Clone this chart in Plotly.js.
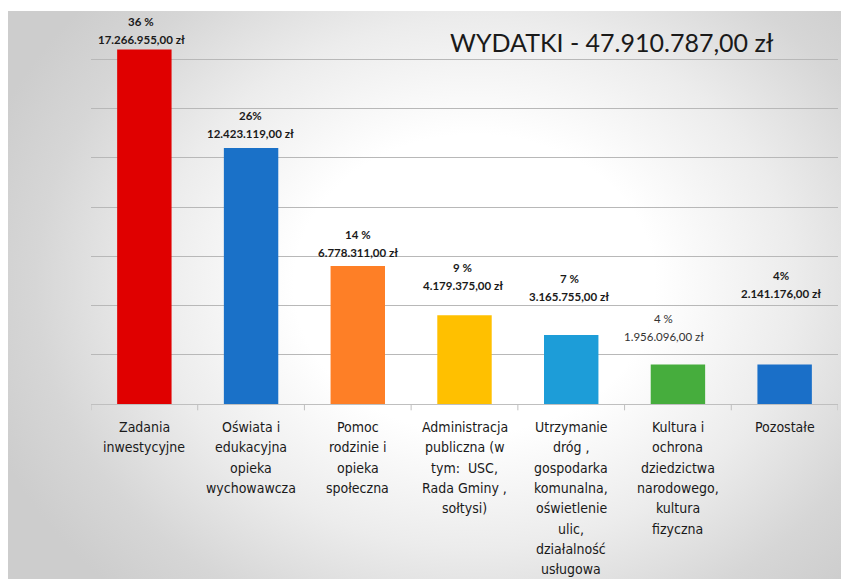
<!DOCTYPE html>
<html>
<head>
<meta charset="utf-8">
<script src="https://cdn.plot.ly/plotly-3.0.1.min.js"></script>
<style>
  html, body { margin: 0; padding: 0; background: #ffffff; }
  #wrap { position: relative; width: 841px; height: 579px; background: #ffffff; overflow: hidden; }
  #bg { position: absolute; left: 8px; top: 11px; width: 833px; height: 568px;
        background: radial-gradient(ellipse 62% 75% at 56% 48%, #ffffff 0%, #ffffff 35%, #ececec 62%, #d6d6d6 85%, #cdcdcd 100%); }
  #chart { position: absolute; left: 0; top: 0; width: 841px; height: 579px; }
</style>
</head>
<body>
<div id="wrap"><div id="bg"></div><div id="chart"></div></div>
<script>
// Data
const categories = [
  "Zadania<br>inwestycyjne",
  "Oświata i<br>edukacyjna<br>opieka<br>wychowawcza",
  "Pomoc<br>rodzinie i<br>opieka<br>społeczna",
  "Administracja<br>publiczna (w<br>tym:  USC,<br>Rada Gminy ,<br>sołtysi)",
  "Utrzymanie<br>dróg ,<br>gospodarka<br>komunalna,<br>oświetlenie<br>ulic,<br>działalność<br>usługowa",
  "Kultura i<br>ochrona<br>dziedzictwa<br>narodowego,<br>kultura<br>fizyczna",
  "Pozostałe"
];
const percentValues = [36, 26, 14, 9, 7, 4, 4];
const percentLabels = ["36 %", "26%", "14 %", "9 %", "7 %", "4 %", "4%"];
const amountLabels = ["17.266.955,00 zł", "12.423.119,00 zł", "6.778.311,00 zł", "4.179.375,00 zł", "3.165.755,00 zł", "1.956.096,00 zł", "2.141.176,00 zł"];
const titleText = "WYDATKI - 47.910.787,00 zł";

// Styles
const barColors = ["#e00000", "#1a71c8", "#fe7f26", "#ffc000", "#1d9dd8", "#46ad3d", "#1a6fc8"];
const labelGap = [1, 6, 5, 21, 30, 20, 63];
const labelXShift = [-3, -1, 0, -2, -2, -14, -4];
const labelBold = [true, true, true, true, true, false, true];

const idx = categories.map((c, i) => i);

const trace = {
  type: 'bar',
  x: idx,
  y: percentValues,
  marker: { color: barColors },
  width: 0.51,
  hoverinfo: 'none'
};

const annotations = [];
idx.forEach(i => {
  const f = { family: 'Lato, "Open Sans", sans-serif', size: 11.5, color: labelBold[i] ? '#1a1a1a' : '#333333', weight: labelBold[i] ? 'bold' : 'normal' };
  annotations.push({ x: i, y: percentValues[i], xref: 'x', yref: 'y', text: amountLabels[i], showarrow: false,
    yanchor: 'bottom', xanchor: 'center', yshift: labelGap[i], xshift: labelXShift[i], font: f });
  annotations.push({ x: i, y: percentValues[i], xref: 'x', yref: 'y', text: percentLabels[i], showarrow: false,
    yanchor: 'bottom', xanchor: 'center', yshift: labelGap[i] + 18, xshift: labelXShift[i], font: f });
});

// Category labels, one annotation per line for Excel-like line spacing
idx.forEach(i => {
  categories[i].split('<br>').forEach((line, k) => {
    annotations.push({ x: i, y: 0, xref: 'x', yref: 'paper', text: line, showarrow: false,
      xanchor: 'center', yanchor: 'middle', yshift: -(23 + 20.3 * k),
      font: { family: '"DejaVu Sans Condensed", "Liberation Sans Narrow", sans-serif', size: 14, color: '#1a1a1a' } });
  });
});

annotations.push({
  x: 0.5, y: 1, xref: 'paper', yref: 'paper', xanchor: 'center', yanchor: 'middle',
  xshift: (612 - (91 + 747 / 2)), yshift: -(42 - 10),
  text: titleText, showarrow: false,
  font: { family: 'Lato, "Open Sans", sans-serif', size: 25, color: '#1a1a1a' }
});

const layout = {
  width: 841, height: 579,
  margin: { l: 91, r: 3, t: 10, b: 175 },
  paper_bgcolor: 'rgba(0,0,0,0)',
  plot_bgcolor: 'rgba(0,0,0,0)',
  showlegend: false,
  xaxis: {
    type: 'linear',
    range: [-0.5, categories.length - 0.5],
    showticklabels: false,
    ticks: '',
    showline: true, linecolor: '#bfbfbf', linewidth: 1,
    showgrid: false, zeroline: false,
    fixedrange: true
  },
  yaxis: {
    range: [0, 40],
    tickmode: 'array',
    tickvals: [5, 10, 15, 20, 25, 30, 35],
    showticklabels: false,
    showgrid: true, gridcolor: '#b8b8b8', gridwidth: 1,
    zeroline: false, showline: false,
    fixedrange: true
  },
  shapes: idx.concat([idx.length]).map(i => ({
    type: 'line', xref: 'x', yref: 'paper', x0: i - 0.5, x1: i - 0.5, y0: 0, y1: -0.016,
    line: { color: '#bfbfbf', width: 1 }
  })),
  annotations: annotations
};

Plotly.newPlot('chart', [trace], layout, { displayModeBar: false, staticPlot: true });
</script>
</body>
</html>
